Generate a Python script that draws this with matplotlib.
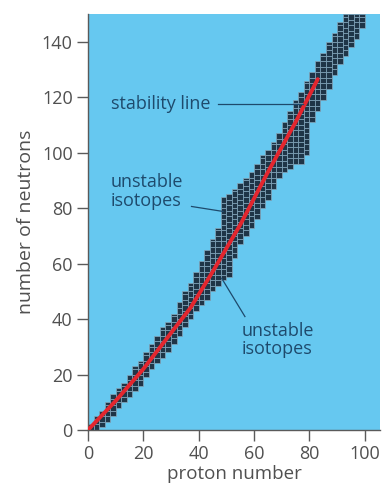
import matplotlib
matplotlib.use("Agg")
import matplotlib.pyplot as plt
from matplotlib.patches import Rectangle
from matplotlib.collections import PatchCollection

# nuclide band, one column every 2 protons: lowest and highest neutron number
z_cols = list(range(0, 100, 2))
n_low = [0, 0, 1, 3, 5, 8, 10, 12, 14, 16,
         19, 22, 24, 26, 28, 31, 34, 37, 40, 43,
         45, 47, 50, 52, 54, 55, 62, 67, 70, 73,
         76, 80, 83, 87, 91, 93, 94, 96, 96, 99,
         111, 115, 119, 123, 128, 132, 135, 138, 141, 145]
n_high = [2, 5, 7, 10, 13, 15, 17, 20, 23, 25,
          28, 31, 34, 37, 39, 42, 46, 50, 53, 57,
          61, 65, 69, 73, 84, 85, 87, 89, 91, 93,
          96, 99, 101, 104, 107, 111, 115, 119, 122, 126,
          129, 133, 136, 140, 143, 147, 150, 150, 150, 150]

# stability line
z_line = [0, 10, 20, 30, 37, 45, 55, 65, 75, 83]
n_line = [0, 10.5, 22, 35, 44, 57, 74, 93, 111, 126.5]

xticks = [0, 20, 40, 60, 80, 100]
yticks = [0, 20, 40, 60, 80, 100, 120, 140]

plt.rcParams['font.family'] = ['Open Sans', 'DejaVu Sans']

fig = plt.figure(figsize=(3.83, 4.87), dpi=100)
ax = fig.add_axes([88 / 383, 57 / 487, 292 / 383, 416 / 487])
ax.set_facecolor('#66c8f0')

cells = []
for z, lo, hi in zip(z_cols, n_low, n_high):
    for n in range(lo, hi, 2):
        cells.append(Rectangle((z, n), 2, min(2, hi - n)))
ax.add_collection(PatchCollection(cells, facecolor='#1f3547', edgecolor='#86a8bd',
                                  linewidth=0.5, zorder=2))

ax.plot(z_line, n_line, color='#e3262e', linewidth=2.8, zorder=3, solid_capstyle='round')

ax.set_xlim(0, 105.5)
ax.set_ylim(0, 150)
ax.set_xticks(xticks)
ax.set_yticks(yticks)
for s in ['top', 'right']:
    ax.spines[s].set_visible(False)
for s in ['left', 'bottom']:
    ax.spines[s].set_color('#5a5a5a')
    ax.spines[s].set_linewidth(1.0)
ax.tick_params(direction='out', length=8, width=1.0, color='#5a5a5a',
               labelsize=13, labelcolor='#505050', pad=3)

ax.set_xlabel('proton number', fontsize=13.5, color='#505050', labelpad=1)
ax.set_ylabel('number of neutrons', fontsize=14, color='#505050', labelpad=5)

txt = '#1e4a6c'
ax.text(8.3, 117.5, 'stability line', fontsize=13, color=txt, va='center', ha='left')
ax.plot([47, 77.6], [117.6, 117.6], color=txt, linewidth=0.9, zorder=4)

ax.text(8.3, 86, 'unstable\nisotopes', fontsize=13, color=txt, va='center', ha='left',
        linespacing=1.05)
ax.plot([37.4, 48.8], [80.6, 78.8], color=txt, linewidth=0.9, zorder=4)

ax.text(55.5, 32.5, 'unstable\nisotopes', fontsize=13, color=txt, va='center', ha='left',
        linespacing=1.05)
ax.plot([56.7, 48.3], [40.9, 54.7], color=txt, linewidth=0.9, zorder=4)

fig.savefig('out.png', dpi=100)
